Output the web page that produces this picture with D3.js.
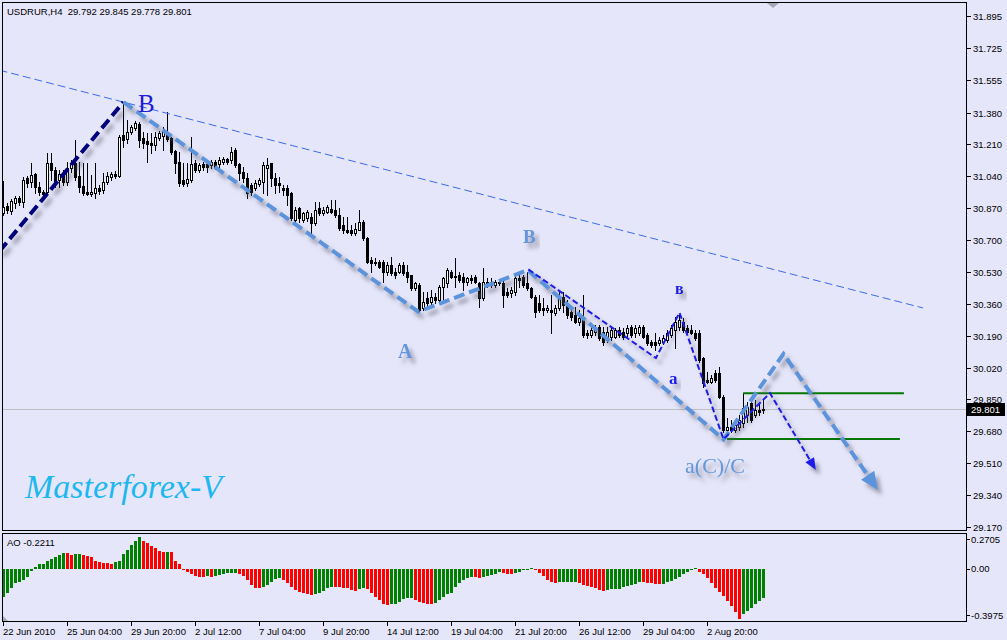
<!DOCTYPE html>
<html><head><meta charset="utf-8">
<script src="https://cdn.jsdelivr.net/npm/d3@7"></script>
<style>
html,body{margin:0;padding:0;background:#e6e6fa;}
svg{display:block;font-family:"Liberation Sans",Arial,sans-serif;}
</style>
</head><body>
<svg id="c" width="1007" height="640"></svg>
<script>
// ---------------- DATA ----------------
const symbolTitle = "USDRUR,H4  29.792 29.845 29.778 29.801";
const aoTitle = "AO -0.2211";
const lastPrice = 29.801;

const opens = [30.844,30.882,30.855,30.898,30.924,30.903,31.031,31.010,31.052,30.983,
30.956,30.956,31.111,31.074,31.020,31.052,31.010,31.084,31.111,31.042,
30.988,30.956,30.946,30.951,30.978,30.967,31.010,31.036,31.052,31.042,
31.260,31.239,31.276,31.298,31.319,31.244,31.228,31.218,31.207,31.244,
31.255,31.271,31.244,31.175,31.116,31.020,31.004,31.020,31.111,31.074,
31.106,31.106,31.100,31.116,31.106,31.116,31.132,31.127,31.180,31.106,
31.063,31.031,30.994,30.978,30.999,31.010,31.084,31.111,31.031,31.004,
30.978,30.978,30.951,30.807,30.871,30.807,30.818,30.823,30.791,30.871,
30.844,30.850,30.866,30.860,30.834,30.780,30.754,30.754,30.738,30.754,
30.796,30.711,30.594,30.578,30.583,30.583,30.530,30.567,30.530,30.530,
30.567,30.530,30.514,30.444,30.460,30.338,30.391,30.370,30.396,30.380,
30.450,30.471,30.530,30.508,30.514,30.503,30.476,30.498,30.503,30.471,
30.391,30.476,30.460,30.460,30.476,30.471,30.423,30.418,30.423,30.498,
30.503,30.471,30.444,30.396,30.364,30.338,30.327,30.327,30.311,30.338,
30.396,30.364,30.316,30.300,30.263,30.284,30.204,30.194,30.210,30.236,
30.210,30.167,30.183,30.183,30.220,30.210,30.204,30.236,30.204,30.204,
30.236,30.194,30.156,30.156,30.151,30.156,30.167,30.194,30.220,30.236,
30.263,30.231,30.220,30.204,30.204,30.071,29.954,29.943,29.991,29.991,
29.863,29.687,29.703,29.687,29.703,29.724,29.767,29.831,29.767,29.794,
29.792];
const highs = [31.015,30.898,30.919,30.935,30.935,31.036,31.042,31.111,31.058,31.010,
30.967,31.164,31.164,31.090,31.074,31.074,31.116,31.127,31.234,31.116,
31.111,31.111,31.047,31.111,30.994,31.058,31.063,31.063,31.068,31.260,
31.436,31.340,31.314,31.335,31.330,31.276,31.271,31.271,31.276,31.282,
31.303,31.383,31.250,31.180,31.170,31.111,31.111,31.250,31.127,31.111,
31.116,31.116,31.127,31.127,31.143,31.143,31.138,31.196,31.191,31.111,
31.090,31.058,31.004,31.020,31.031,31.116,31.138,31.111,31.058,31.036,
30.994,30.994,30.956,30.876,30.876,30.850,30.860,30.844,30.903,30.903,
30.876,30.887,30.914,30.914,30.871,30.823,30.823,30.780,30.791,30.860,
30.807,30.716,30.610,30.604,30.594,30.594,30.583,30.610,30.551,30.578,
30.583,30.567,30.514,30.476,30.471,30.423,30.423,30.434,30.418,30.460,
30.503,30.551,30.540,30.604,30.530,30.524,30.503,30.514,30.514,30.476,
30.551,30.498,30.498,30.487,30.487,30.487,30.444,30.450,30.514,30.514,
30.514,30.530,30.450,30.407,30.407,30.391,30.354,30.407,30.354,30.434,
30.423,30.380,30.327,30.343,30.327,30.407,30.220,30.247,30.247,30.247,
30.236,30.236,30.236,30.231,30.236,30.231,30.247,30.247,30.247,30.247,
30.247,30.204,30.167,30.204,30.183,30.194,30.220,30.247,30.290,30.300,
30.284,30.247,30.247,30.220,30.220,30.076,29.996,29.980,30.007,30.023,
29.874,29.751,29.740,29.740,29.767,29.884,29.836,29.847,29.847,29.831,
29.845];
const lows = [30.834,30.844,30.839,30.871,30.887,30.876,30.983,30.983,30.951,30.940,
30.935,30.946,31.020,30.983,30.983,30.994,30.994,31.063,31.020,30.956,
30.940,30.940,30.935,30.924,30.946,30.951,30.999,31.020,31.031,31.036,
31.196,31.218,31.266,31.287,31.196,31.191,31.116,31.164,31.180,31.234,
31.180,31.228,31.159,31.058,30.988,30.988,30.988,31.010,31.063,31.063,
31.074,31.063,31.084,31.079,31.090,31.106,31.106,31.111,31.090,31.020,
31.010,30.924,30.940,30.967,30.988,30.951,30.940,30.988,30.951,30.956,
30.940,30.887,30.807,30.791,30.796,30.796,30.802,30.738,30.780,30.834,
30.834,30.844,30.844,30.823,30.754,30.738,30.738,30.727,30.727,30.754,
30.700,30.578,30.530,30.567,30.551,30.476,30.514,30.514,30.498,30.524,
30.514,30.476,30.434,30.434,30.316,30.327,30.343,30.354,30.364,30.370,
30.380,30.450,30.498,30.450,30.476,30.434,30.460,30.471,30.471,30.343,
30.380,30.450,30.450,30.450,30.460,30.343,30.396,30.396,30.407,30.450,
30.450,30.434,30.391,30.290,30.316,30.300,30.316,30.204,30.300,30.327,
30.316,30.284,30.274,30.258,30.247,30.183,30.178,30.183,30.194,30.167,
30.140,30.156,30.167,30.178,30.183,30.172,30.183,30.183,30.183,30.194,
30.178,30.140,30.130,30.114,30.140,30.146,30.156,30.183,30.124,30.220,
30.210,30.204,30.199,30.167,30.050,29.916,29.938,29.938,29.943,29.858,
29.676,29.676,29.676,29.676,29.687,29.703,29.730,29.730,29.756,29.767,
29.778];
const closes = [30.876,30.860,30.908,30.924,30.903,31.020,31.004,31.047,30.983,30.956,
30.946,31.111,31.074,31.010,31.052,31.010,31.084,31.111,31.036,30.983,
30.951,30.946,30.956,30.978,30.962,31.010,31.042,31.052,31.042,31.250,
31.234,31.276,31.303,31.324,31.234,31.218,31.212,31.207,31.250,31.271,
31.276,31.239,31.170,31.111,31.004,30.999,31.026,31.106,31.074,31.100,
31.090,31.090,31.116,31.090,31.127,31.132,31.116,31.170,31.100,31.058,
31.031,30.951,30.956,31.004,31.020,31.100,31.100,31.031,30.994,30.994,
30.967,30.940,30.818,30.860,30.818,30.844,30.850,30.791,30.860,30.844,
30.860,30.876,30.850,30.834,30.764,30.754,30.743,30.738,30.759,30.796,
30.711,30.583,30.578,30.583,30.556,30.530,30.567,30.524,30.514,30.567,
30.524,30.503,30.444,30.471,30.327,30.370,30.364,30.396,30.380,30.450,
30.498,30.540,30.503,30.503,30.487,30.476,30.498,30.487,30.476,30.391,
30.476,30.460,30.476,30.476,30.471,30.407,30.407,30.434,30.498,30.487,
30.460,30.444,30.396,30.316,30.327,30.327,30.338,30.316,30.338,30.396,
30.354,30.300,30.290,30.263,30.284,30.194,30.194,30.220,30.231,30.178,
30.156,30.210,30.220,30.220,30.194,30.183,30.231,30.194,30.231,30.236,
30.183,30.151,30.140,30.140,30.167,30.178,30.204,30.231,30.263,30.274,
30.220,30.210,30.204,30.178,30.060,29.938,29.943,29.964,29.954,29.863,
29.687,29.703,29.687,29.714,29.740,29.804,29.810,29.740,29.794,29.783,
29.801];

const aoValues = [-0.2075,-0.1775,-0.145,-0.1075,-0.095,-0.0825,-0.0575,-0.0125,0.0175,0.0375,
0.038,0.0625,0.0725,0.0925,0.105,0.1225,0.1175,0.105,0.1125,0.115,
0.105,0.0975,0.0925,0.0625,0.055,0.0475,0.045,0.0375,0.055,0.0575,
0.1125,0.1425,0.18,0.2125,0.2375,0.2125,0.1925,0.1725,0.155,0.135,
0.125,0.13,0.125,0.0625,0.0375,-0.005,-0.02,-0.0375,-0.0525,-0.0575,
-0.06,-0.0525,-0.0625,-0.0525,-0.045,-0.0375,-0.0325,-0.03,-0.0275,-0.0375,
-0.0525,-0.0825,-0.12,-0.14,-0.145,-0.1325,-0.12,-0.095,-0.0725,-0.0675,
-0.0825,-0.1075,-0.1325,-0.1575,-0.175,-0.1825,-0.1875,-0.195,-0.1875,-0.1775,
-0.1625,-0.145,-0.1325,-0.135,-0.138,-0.14,-0.145,-0.158,-0.163,-0.153,
-0.145,-0.152,-0.183,-0.208,-0.233,-0.265,-0.27,-0.265,-0.262,-0.245,
-0.228,-0.22,-0.215,-0.233,-0.245,-0.258,-0.26,-0.262,-0.253,-0.233,
-0.208,-0.19,-0.18,-0.133,-0.108,-0.083,-0.07,-0.058,-0.06,-0.065,
-0.058,-0.05,-0.043,-0.035,-0.02,-0.028,-0.035,-0.037,-0.03,-0.02,
-0.008,0.004,0.006,-0.004,-0.028,-0.053,-0.083,-0.1,-0.103,-0.1,
-0.099,-0.098,-0.097,-0.096,-0.108,-0.12,-0.128,-0.133,-0.145,-0.158,
-0.163,-0.158,-0.153,-0.15,-0.148,-0.138,-0.125,-0.12,-0.113,-0.098,
-0.1,-0.105,-0.108,-0.112,-0.115,-0.11,-0.1,-0.09,-0.075,-0.06,
-0.04,-0.02,0.004,0.006,-0.02,-0.038,-0.07,-0.108,-0.14,-0.17,
-0.2,-0.24,-0.278,-0.32,-0.375,-0.34,-0.313,-0.29,-0.265,-0.24,
-0.2211];

const priceTicks = [31.895,31.725,31.555,31.380,31.210,31.040,30.870,30.700,30.530,30.360,30.190,30.020,29.850,29.680,29.510,29.340,29.170];
const aoTicks = [0.2705, 0.00, -0.3975];
const timeLabels = ["22 Jun 2010","25 Jun 04:00","29 Jun 20:00","2 Jul 12:00","7 Jul 04:00","9 Jul 20:00","14 Jul 12:00","19 Jul 04:00","21 Jul 20:00","26 Jul 12:00","29 Jul 04:00","2 Aug 20:00"];
const timeLabelBars = [0,16,32,48,64,80,96,112,128,144,160,176];

// drawn objects: (bar index, price)
const trendLine = [{b:-1, p:31.606},{b:229.9, p:30.338}];
const waveNavy = [{b:-1, p:30.641},{b:30, p:31.436}];
const waveLight = [{b:30, p:31.436},{b:103.7, p:30.318},{b:131.05, p:30.540},{b:180, p:29.637},{b:195, p:30.093},{b:218.6, p:29.367}];
const waveBlue = [{b:131.2, p:30.544},{b:163.1, p:30.071},{b:169, p:30.313},{b:180, p:29.638},{b:191.6, p:29.884},{b:203.1, p:29.474}];
const levelLines = [{p:29.883, b0:184.9, b1:225.1},{p:29.639, b0:180.9, b1:224.1}];
const waveLabels = [
  {t:"B", b:33.6, p:31.383, size:25, weight:"normal", color:"#1e1ed4", shadow:false},
  {t:"A", b:98.6, p:30.071, size:20, weight:"bold", color:"#6496dc", shadow:true},
  {t:"B", b:129.9, p:30.684, size:19, weight:"bold", color:"#6496dc", shadow:true},
  {t:"в", b:167.9, p:30.412, size:16, weight:"bold", color:"#1c1ce6", shadow:true},
  {t:"a", b:166.4, p:29.932, size:17, weight:"bold", color:"#1c1ce6", shadow:true},
  {t:"a(C)/C", b:170.4, p:29.458, size:22, weight:"normal", color:"#6496dc", shadow:true}
];
const brandText = "Masterforex-V";

// ---------------- LAYOUT ----------------
const L = 2.5, R = 966.5, T = 2.5, MB = 530.5, AT = 533.5, AB = 621.5;
const svg = d3.select("#c");
svg.append("rect").attr("width",1007).attr("height",640).attr("fill","#e6e6fa");

const x = d3.scaleLinear().domain([0,190]).range([3.5,763.5]);
const y = d3.scaleLinear().domain([29.170,31.895]).range([527,16]);
const ya = d3.scaleLinear().domain([-0.3975,0.2705]).range([622,533]);

const defs = svg.append("defs");
defs.append("clipPath").attr("id","clipMain").append("rect")
  .attr("x",3).attr("y",3).attr("width",963).attr("height",527);
const f = defs.append("filter").attr("id","sh").attr("x","-20%").attr("y","-20%").attr("width","150%").attr("height","150%");
f.append("feDropShadow").attr("dx",4).attr("dy",5).attr("stdDeviation",2)
  .attr("flood-color","#5a5a6a").attr("flood-opacity",0.55);

// current price line
svg.append("line").attr("x1",L).attr("x2",R)
  .attr("y1",Math.round(y(lastPrice))+0.5).attr("y2",Math.round(y(lastPrice))+0.5)
  .attr("stroke","#c0c0c0").attr("stroke-width",1);

// ---------------- CANDLES ----------------
const bars = d3.range(opens.length).map(i=>({i,o:opens[i],h:highs[i],l:lows[i],c:closes[i]}));
const cg = svg.append("g").attr("clip-path","url(#clipMain)").attr("shape-rendering","crispEdges");
cg.selectAll("line.wick").data(bars).join("line").attr("class","wick")
  .attr("x1",d=>x(d.i)).attr("x2",d=>x(d.i))
  .attr("y1",d=>Math.round(y(d.h))).attr("y2",d=>Math.round(y(d.l))+1)
  .attr("stroke","#000").attr("stroke-width",1);
cg.selectAll("rect.bull").data(bars.filter(d=>d.c>d.o)).join("rect").attr("class","bull")
  .attr("x",d=>x(d.i)-1).attr("y",d=>Math.round(y(d.c))+0.5)
  .attr("width",2).attr("height",d=>Math.max(1,Math.round(y(d.o))-Math.round(y(d.c))))
  .attr("fill","#fff").attr("stroke","#000").attr("stroke-width",1);
cg.selectAll("rect.bear").data(bars.filter(d=>d.c<=d.o)).join("rect").attr("class","bear")
  .attr("x",d=>x(d.i)-1.5).attr("y",d=>Math.round(y(d.o)))
  .attr("width",3).attr("height",d=>Math.max(1,Math.round(y(d.c))-Math.round(y(d.o))+1))
  .attr("fill","#000");

// ---------------- DRAWN OBJECTS ----------------
const og = svg.append("g").attr("clip-path","url(#clipMain)");
const line = d3.line().x(d=>x(d.b)).y(d=>y(d.p));

og.append("path").datum(trendLine).attr("d",line).attr("fill","none")
  .attr("stroke","#3b6ae8").attr("stroke-width",1).attr("stroke-dasharray","8,4");

og.selectAll("line.lvl").data(levelLines).join("line").attr("class","lvl")
  .attr("x1",d=>x(d.b0)).attr("x2",d=>x(d.b1))
  .attr("y1",d=>y(d.p)).attr("y2",d=>y(d.p))
  .attr("stroke","#007800").attr("stroke-width",2);

const sg = og.append("g").attr("filter","url(#sh)");
function arrowPts(pts, len, wid){
  const a = pts[pts.length-2], b = pts[pts.length-1];
  const x1=x(a.b), y1=y(a.p), x2=x(b.b), y2=y(b.p);
  const dx=x2-x1, dy=y2-y1, m=Math.hypot(dx,dy), ux=dx/m, uy=dy/m;
  const bx=x2-ux*len, by=y2-uy*len;
  return {base:[bx,by], tri:[[x2,y2],[bx-uy*wid/2,by+ux*wid/2],[bx+uy*wid/2,by-ux*wid/2]]};
}
function drawWave(pts, color, width, dash, arrow){
  let coords = pts.map(d=>[x(d.b),y(d.p)]);
  let tri=null;
  if(arrow){ const ap=arrowPts(pts,arrow[0],arrow[1]); coords[coords.length-1]=ap.base; tri=ap.tri; }
  sg.append("path").attr("d",d3.line()(coords)).attr("fill","none")
    .attr("stroke",color).attr("stroke-width",width).attr("stroke-dasharray",dash)
    .attr("stroke-linejoin","miter");
  if(tri) sg.append("path").attr("d","M"+tri.map(p=>p.join(",")).join("L")+"Z").attr("fill",color);
}
drawWave(waveNavy,"#00007c",4,"11,5",null);
drawWave(waveLight,"#5b93da",4,"11,5",[18,16]);
drawWave(waveBlue,"#1c1ce6",2,"6,3",[12,10]);

// labels
og.selectAll("text.wl").data(waveLabels).join("text").attr("class","wl")
  .attr("x",d=>x(d.b)).attr("y",d=>y(d.p))
  .attr("font-family","'Liberation Serif','Times New Roman',serif")
  .attr("font-size",d=>d.size).attr("font-weight",d=>d.weight)
  .attr("fill",d=>d.color).attr("filter",d=>d.shadow?"url(#sh)":null)
  .text(d=>d.t);

svg.append("text").attr("x",25).attr("y",498)
  .attr("font-family","'Liberation Serif','Times New Roman',serif").attr("font-style","italic")
  .attr("font-size",34).attr("fill","#1db8f0").text(brandText);

// ---------------- AO ----------------
const aoBars = aoValues.map((v,i)=>({i,v,up: i===0 ? true : v>aoValues[i-1]}));
svg.append("g").attr("shape-rendering","crispEdges").selectAll("rect").data(aoBars).join("rect")
  .attr("x",d=>x(d.i)-1.5).attr("width",3)
  .attr("y",d=>Math.min(ya(d.v),ya(0)))
  .attr("height",d=>Math.max(1,Math.abs(ya(d.v)-ya(0))))
  .attr("fill",d=>d.up?"#008000":"#ff0000");

// ---------------- FRAMES ----------------
const fr = svg.append("g").attr("fill","none").attr("stroke","#000").attr("stroke-width",1).attr("shape-rendering","crispEdges");
fr.append("rect").attr("x",L).attr("y",T).attr("width",R-L).attr("height",MB-T);
fr.append("rect").attr("x",L).attr("y",AT).attr("width",R-L).attr("height",AB-AT);

// price axis
const pa = svg.append("g").attr("font-size",9.5).attr("fill","#000");
priceTicks.forEach(v=>{
  const yy=Math.round(y(v))+0.5;
  pa.append("line").attr("x1",967).attr("x2",971).attr("y1",yy).attr("y2",yy).attr("stroke","#000").attr("shape-rendering","crispEdges");
  pa.append("text").attr("x",973).attr("y",yy+3.5).text(v.toFixed(3));
});
// last price tag
const ly = Math.round(y(lastPrice))+0.5;
svg.append("rect").attr("x",967).attr("y",ly-6.5).attr("width",38).attr("height",13).attr("fill","#000");
svg.append("text").attr("x",971).attr("y",ly+3.5).attr("font-size",9.5).attr("fill","#fff").text(lastPrice.toFixed(3));

// AO axis
const aoLabelY = [539, 568, 615];
aoTicks.forEach((v,k)=>{
  const yy = k===1 ? Math.round(ya(v))+0.5 : aoLabelY[k];
  svg.append("line").attr("x1",967).attr("x2",970).attr("y1",yy).attr("y2",yy).attr("stroke","#000").attr("shape-rendering","crispEdges");
  svg.append("text").attr("x",971).attr("y",aoLabelY[k]+3.5).attr("font-size",9.5)
    .text(v===0 ? "0.00" : (v<0? v.toFixed(4) : v.toFixed(4)));
});

// time axis
const ta = svg.append("g").attr("font-size",9.5);
timeLabelBars.forEach((b,k)=>{
  const xx = x(b);
  ta.append("line").attr("x1",xx).attr("x2",xx).attr("y1",622).attr("y2",626).attr("stroke","#000").attr("shape-rendering","crispEdges");
  ta.append("text").attr("x",xx-0.5).attr("y",635).text(timeLabels[k]);
});

// titles
svg.append("text").attr("x",7).attr("y",14.5).attr("font-size",9.5).attr("xml:space","preserve").style("white-space","pre").text(symbolTitle);
svg.append("text").attr("x",7).attr("y",546).attr("font-size",9.5).text(aoTitle);

// chart-shift markers
svg.append("path").attr("d","M767,3L779,3L773,8Z").attr("fill","#a8a8b4");
svg.append("path").attr("d","M3,616L3,621L8,621Z").attr("fill","#a8a8b4");
</script>
</body></html>
